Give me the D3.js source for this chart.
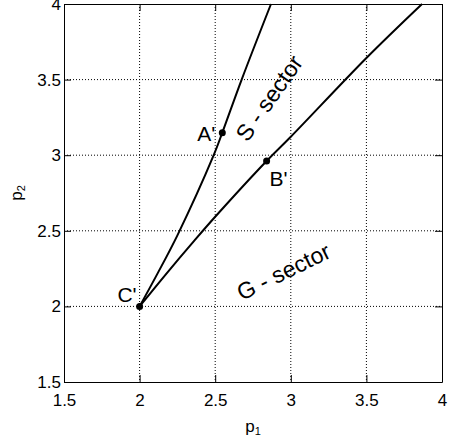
<!DOCTYPE html>
<html>
<head>
<meta charset="utf-8">
<script src="https://cdn.jsdelivr.net/npm/d3@7"></script>
<style>
  body { margin: 0; background: #fff; }
  text { font-family: "Liberation Sans", Arial, sans-serif; }
</style>
</head>
<body>
<div id="chart"></div>
<script>
// curve through C' and A' (upper boundary)
var upperP1 = [2, 2.12, 2.25, 2.49, 2.547, 2.675, 2.869];
var upperP2 = [2, 2.22, 2.47, 3.0, 3.149, 3.5, 4];
// curve through C' and B' (lower boundary)
var lowerP1 = [2, 2.179, 2.362, 2.5, 2.84, 3.0, 3.5, 3.868];
var lowerP2 = [2, 2.219, 2.435, 2.593, 2.962, 3.122, 3.643, 4];

var pointNames = ["A'", "B'", "C'"];
var pointP1 = [2.547, 2.84, 2];
var pointP2 = [3.149, 2.962, 2];

var tickValues = [1.5, 2, 2.5, 3, 3.5, 4];
var gridValues = [2, 2.5, 3, 3.5];

var sectorNames = ["S - sector", "G - sector"];
var sectorP1 = [2.714, 2.675];
var sectorP2 = [3.08, 2.035];
var sectorAngle = [-55, -26];

var margin = {top: 4, right: 12, bottom: 61, left: 64},
  width = 454 - margin.left - margin.right,
  height = 443 - margin.top - margin.bottom;

var svg = d3.select("#chart").append("svg")
  .attr("width", 454)
  .attr("height", 443)
  .append("g")
  .attr("transform", "translate(" + margin.left + "," + margin.top + ")");

var x = d3.scaleLinear().domain([1.5, 4]).range([0, width]);
var y = d3.scaleLinear().domain([1.5, 4]).range([height, 0]);

// dotted grid
svg.selectAll(".gx").data(gridValues).enter().append("line")
  .attr("x1", d => x(d)).attr("x2", d => x(d))
  .attr("y1", 0).attr("y2", height)
  .attr("stroke", "#000").attr("stroke-width", 1)
  .attr("stroke-dasharray", "1,2");
svg.selectAll(".gy").data(gridValues).enter().append("line")
  .attr("y1", d => y(d)).attr("y2", d => y(d))
  .attr("x1", 0).attr("x2", width)
  .attr("stroke", "#000").attr("stroke-width", 1)
  .attr("stroke-dasharray", "1,2");

// axes, ticks pointing inward on all four sides
function styleAxis(g) {
  g.select(".domain").attr("stroke", "#000");
  g.selectAll(".tick line").attr("stroke", "#000");
  g.selectAll("text").attr("font-size", 17).attr("fill", "#000")
    .attr("font-family", "'Liberation Sans', Arial, sans-serif");
}
svg.append("g")
  .attr("transform", "translate(0," + height + ")")
  .call(d3.axisBottom(x).tickValues(tickValues).tickFormat(d3.format("")).tickSizeInner(-7).tickSizeOuter(0).tickPadding(12))
  .call(styleAxis);
svg.append("g")
  .call(d3.axisLeft(y).tickValues(tickValues).tickFormat(d3.format("")).tickSizeInner(-7).tickSizeOuter(0).tickPadding(3))
  .call(styleAxis);
svg.append("g")
  .call(d3.axisTop(x).tickValues(tickValues).tickFormat("").tickSizeInner(-7).tickSizeOuter(0))
  .call(styleAxis);
svg.append("g")
  .attr("transform", "translate(" + width + ",0)")
  .call(d3.axisRight(y).tickValues(tickValues).tickFormat("").tickSizeInner(-7).tickSizeOuter(0))
  .call(styleAxis);

// curves
var line = d3.line()
  .x(d => x(d[0]))
  .y(d => y(d[1]))
  .curve(d3.curveCatmullRom);

svg.append("path")
  .datum(d3.zip(upperP1, upperP2))
  .attr("fill", "none").attr("stroke", "#000").attr("stroke-width", 2)
  .attr("d", line);
svg.append("path")
  .datum(d3.zip(lowerP1, lowerP2))
  .attr("fill", "none").attr("stroke", "#000").attr("stroke-width", 2)
  .attr("d", line);

// marked points
svg.selectAll(".pt").data(pointNames).enter().append("circle")
  .attr("cx", (d, i) => x(pointP1[i]))
  .attr("cy", (d, i) => y(pointP2[i]))
  .attr("r", 3.5)
  .attr("fill", "#000");

var labelDx = [-7, 3, -3];
var labelDy = [8, 25, -4];
var labelAnchor = ["end", "start", "end"];
svg.selectAll(".lbl").data(pointNames).enter().append("text")
  .attr("x", (d, i) => x(pointP1[i]) + labelDx[i])
  .attr("y", (d, i) => y(pointP2[i]) + labelDy[i])
  .attr("text-anchor", (d, i) => labelAnchor[i])
  .attr("font-size", 21)
  .text(d => d);

// sector labels
svg.selectAll(".sec").data(sectorNames).enter().append("text")
  .attr("transform", (d, i) => "translate(" + x(sectorP1[i]) + "," + y(sectorP2[i]) + ") rotate(" + sectorAngle[i] + ")")
  .attr("font-size", 23)
  .text(d => d);

// axis titles
var xt = svg.append("text")
  .attr("x", width / 2)
  .attr("y", height + 50)
  .attr("text-anchor", "middle")
  .attr("font-size", 17);
xt.append("tspan").text("p");
xt.append("tspan").attr("font-size", 11).attr("dy", 3).text("1");

var yt = svg.append("text")
  .attr("transform", "translate(" + (-42) + "," + (height / 2) + ") rotate(-90)")
  .attr("text-anchor", "middle")
  .attr("font-size", 17);
yt.append("tspan").text("p");
yt.append("tspan").attr("font-size", 11).attr("dy", 3).text("2");
</script>
</body>
</html>
